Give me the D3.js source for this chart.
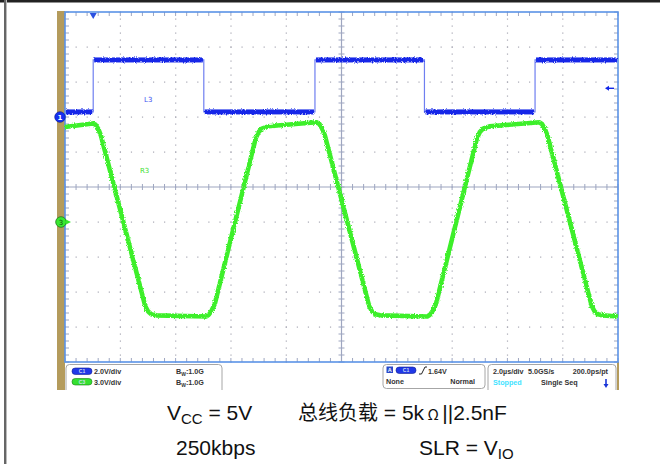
<!DOCTYPE html>
<html><head><meta charset="utf-8">
<script src="https://cdn.jsdelivr.net/npm/d3@7"></script>
<style>body{margin:0;background:#fff;overflow:hidden}</style>
</head><body><svg id="c" width="660" height="464"></svg>
<script>
// ---------- data ----------
// C1 (blue, 2 V/div): logic input, edge times (µs) and level of each segment (V)
const c1EdgeTimes = [0, 1.02, 5.02, 9.04, 13.0, 17.0, 20];
const c1Levels    = [0.29, 3.26, 0.29, 3.26, 0.29, 3.26];
// C3 (green, 3 V/div): slew-limited bus output (µs, V)
const c3Times = [0, 0.5, 1.0, 1.1, 1.2, 1.3, 2.9, 3.0, 3.12, 3.3,
                 5.1, 5.2, 5.3, 5.42, 6.9, 7.0, 7.12, 7.35,
                 9.1, 9.2, 9.3, 9.4, 11.0, 11.1, 11.22, 11.4,
                 13.1, 13.2, 13.3, 13.42, 14.9, 15.0, 15.12, 15.35,
                 17.15, 17.25, 17.35, 17.45, 19.05, 19.15, 19.27, 19.45, 20];
const c3Volts = [8.14, 8.3, 8.45, 8.35, 8.0, 7.4, -7.2, -7.65, -7.9, -8.0,
                 -8.1, -7.95, -7.6, -7.0, 7.2, 7.7, 8.0, 8.2,
                 8.55, 8.4, 8.0, 7.4, -7.2, -7.65, -7.9, -8.0,
                 -8.1, -7.95, -7.6, -7.0, 7.2, 7.7, 8.0, 8.2,
                 8.55, 8.4, 8.0, 7.4, -7.2, -7.65, -7.9, -8.0, -8.1];
const c1Offset = 2;    // ground marker position (div)
const c3Offset = -1;   // ground marker position (div)
const c1VoltsPerDiv = 2, c3VoltsPerDiv = 3;
const triggerTime = 1.02, triggerLevel = 1.64;
const statusLeft = [["C1", "2.0V/div", "1.0G"], ["C3", "3.0V/div", "1.0G"]];
const statusTrig = ["1.64V", "None", "Normal"];
const statusTime = ["2.0µs/div", "5.0GS/s", "200.0ps/pt", "Stopped", "Single Seq"];

// ---------- scales ----------
const svg = d3.select("#c");
const L = 65, R = 618, T = 12, B = 362;
const x = d3.scaleLinear().domain([0, 20]).range([L, R]);
const xd = d3.scaleLinear().domain([-5, 5]).range([L, R]);   // horizontal divisions
const yd = d3.scaleLinear().domain([-5, 5]).range([B, T]);   // vertical divisions
const y1 = v => yd(c1Offset + v / c1VoltsPerDiv);
const y3 = v => yd(c3Offset + v / c3VoltsPerDiv);

// noise filter for the traces
const defs = svg.append("defs");
const f = defs.append("filter").attr("id", "nz").attr("filterUnits", "userSpaceOnUse")
  .attr("x", 0).attr("y", 0).attr("width", 660).attr("height", 464);
f.append("feTurbulence").attr("type", "fractalNoise").attr("baseFrequency", "1.1 0.7").attr("numOctaves", 1).attr("seed", 4).attr("result", "t");
f.append("feDisplacementMap").attr("in", "SourceGraphic").attr("in2", "t").attr("scale", 3.5)
  .attr("xChannelSelector", "R").attr("yChannelSelector", "G");

// frame
svg.append("rect").attr("x", 0).attr("y", 0).attr("width", 660).attr("height", 2.5).attr("fill", "#222");
svg.append("rect").attr("x", 4).attr("y", 0).attr("width", 2).attr("height", 464).attr("fill", "#666");
svg.append("rect").attr("x", 6).attr("y", 0).attr("width", 1).attr("height", 464).attr("fill", "#bbb");

// khaki strip
svg.append("rect").attr("x", 57).attr("y", 11).attr("width", 8).attr("height", 379).attr("fill", "#b49b5c");
svg.append("rect").attr("x", 617).attr("y", 362).attr("width", 2).attr("height", 28).attr("fill", "#b49b5c");

// grid dots
const g = svg.append("g");
const minorX = d3.range(-5, 5.001, 0.2), minorY = d3.range(-5, 5.001, 0.2);
[-4, -3, -2, -1, 1, 2, 3, 4].forEach(d => {
  minorY.forEach(m => g.append("rect").attr("x", xd(d) - 0.5).attr("y", yd(m) - 0.5).attr("width", 1.2).attr("height", 1.2).attr("fill", "#a8a8b4"));
  minorX.forEach(m => g.append("rect").attr("x", xd(m) - 0.5).attr("y", yd(d) - 0.5).attr("width", 1.2).attr("height", 1.2).attr("fill", "#a8a8b4"));
});
// center cross
g.append("line").attr("x1", L).attr("x2", R).attr("y1", yd(0)).attr("y2", yd(0)).attr("stroke", "#9ea6c0").attr("stroke-width", 1.2);
g.append("line").attr("x1", xd(0)).attr("x2", xd(0)).attr("y1", T).attr("y2", B).attr("stroke", "#9ea6c0").attr("stroke-width", 1.2);
minorX.forEach(m => g.append("line").attr("x1", xd(m)).attr("x2", xd(m)).attr("y1", yd(0) - 3).attr("y2", yd(0) + 3).attr("stroke", "#9ea6c0"));
minorY.forEach(m => g.append("line").attr("y1", yd(m)).attr("y2", yd(m)).attr("x1", xd(0) - 3).attr("x2", xd(0) + 3).attr("stroke", "#9ea6c0"));
// edge ticks
minorX.forEach(m => {
  g.append("line").attr("x1", xd(m)).attr("x2", xd(m)).attr("y1", T).attr("y2", T + 4).attr("stroke", "#9ea6c0");
  g.append("line").attr("x1", xd(m)).attr("x2", xd(m)).attr("y1", B - 4).attr("y2", B).attr("stroke", "#9ea6c0");
});
minorY.forEach(m => {
  g.append("line").attr("y1", yd(m)).attr("y2", yd(m)).attr("x1", L).attr("x2", L + 4).attr("stroke", "#9ea6c0");
  g.append("line").attr("y1", yd(m)).attr("y2", yd(m)).attr("x1", R - 4).attr("x2", R).attr("stroke", "#9ea6c0");
});
// border
svg.append("rect").attr("x", L).attr("y", T).attr("width", R - L).attr("height", B - T)
  .attr("fill", "none").attr("stroke", "#5b93e6").attr("stroke-width", 1.6);

// ---------- traces ----------
const blue = "#1228e8", green = "#3def2a";
// C3 green
const line3 = d3.line().x(d => x(d[0])).y(d => y3(d[1]));
svg.append("path").datum(c3Times.map((t, i) => [t, c3Volts[i]])).attr("d", line3)
  .attr("fill", "none").attr("stroke", green).attr("stroke-width", 4.6).attr("stroke-linejoin", "round")
  .attr("filter", "url(#nz)");
// C1 blue: thin edges + thick noisy plateaus
const stepPts = [];
c1Levels.forEach((v, i) => { stepPts.push([c1EdgeTimes[i], v]); stepPts.push([c1EdgeTimes[i + 1], v]); });
svg.append("path").datum(stepPts).attr("d", d3.line().x(d => x(d[0])).y(d => y1(d[1])))
  .attr("fill", "none").attr("stroke", "#6f7ff0").attr("stroke-width", 1.2);
const bg = svg.append("g").attr("filter", "url(#nz)");
c1Levels.forEach((v, i) => {
  bg.append("rect").attr("x", x(c1EdgeTimes[i]) + 1).attr("y", y1(v) - 2.5)
    .attr("width", x(c1EdgeTimes[i + 1]) - x(c1EdgeTimes[i]) - 2).attr("height", 5).attr("fill", blue);
});

// trace labels
svg.append("text").attr("x", 144).attr("y", 102).text("L3").attr("fill", "#3a4ff0").attr("font-size", 7).attr("font-family", "DejaVu Sans");
svg.append("text").attr("x", 140).attr("y", 173).text("R3").attr("fill", "#40e030").attr("font-size", 7).attr("font-family", "DejaVu Sans");

// markers
const tx = x(triggerTime);
svg.append("path").attr("d", `M${tx - 3.5},${T + 1}L${tx + 3.5},${T + 1}L${tx},${T + 7}Z`).attr("fill", "#2a50e0");
const ty = y1(triggerLevel);
svg.append("line").attr("x1", R - 4).attr("x2", R - 11).attr("y1", ty).attr("y2", ty).attr("stroke", blue).attr("stroke-width", 1.4);
svg.append("path").attr("d", `M${R - 13},${ty}L${R - 9},${ty - 2.5}L${R - 9},${ty + 2.5}Z`).attr("fill", blue);
svg.append("circle").attr("cx", 60).attr("cy", yd(c1Offset)).attr("r", 5.3).attr("fill", "#1530f0").attr("stroke", "#0a1a90").attr("stroke-width", 0.6);
svg.append("text").attr("x", 60).attr("y", yd(c1Offset) + 2.5).attr("text-anchor", "middle").text("1")
  .attr("fill", "#fff").attr("font-size", 7).attr("font-family", "DejaVu Sans").attr("font-weight", "bold");
svg.append("circle").attr("cx", 61).attr("cy", yd(c3Offset)).attr("r", 5.3).attr("fill", "#38e830").attr("stroke", "#207a20").attr("stroke-width", 0.8);
svg.append("text").attr("x", 61).attr("y", yd(c3Offset) + 2.5).attr("text-anchor", "middle").text("3")
  .attr("fill", "#105010").attr("font-size", 7).attr("font-family", "DejaVu Sans");
svg.append("path").attr("d", `M66,${yd(c3Offset) - 2.5}L71,${yd(c3Offset)}L66,${yd(c3Offset) + 2.5}Z`).attr("fill", "#38e830");
svg.append("line").attr("x1", 65).attr("x2", 68).attr("y1", yd(c3Offset)).attr("y2", yd(c3Offset)).attr("stroke", "#38e830").attr("stroke-width", 1.2);

// ---------- status bar ----------
const sf = "Liberation Sans, Arial, sans-serif";
const st = svg.append("g").attr("font-family", sf).attr("font-size", 7.2).attr("font-weight", "bold").attr("fill", "#333");
const box = (x0, y0, w, h) => st.append("rect").attr("x", x0).attr("y", y0).attr("width", w).attr("height", h).attr("rx", 3.5)
  .attr("fill", "#fff").attr("stroke", "#a6a6a6").attr("stroke-width", 1);
box(66, 364.5, 156, 30);
box(383, 364.5, 102, 24);
box(488, 364.5, 128, 30);
const pill = (px, py, col, dark, txt) => {
  st.append("rect").attr("x", px).attr("y", py).attr("width", 20).attr("height", 6.5).attr("rx", 3.2).attr("fill", col).attr("stroke", dark).attr("stroke-width", 0.6);
  st.append("text").attr("x", px + 10).attr("y", py + 5.2).attr("text-anchor", "middle").attr("font-size", 5).attr("fill", "#cde").text(txt);
};
statusLeft.forEach((r, i) => {
  const yy = 374 + i * 10.5;
  pill(72, yy - 6, i === 0 ? "#2038e8" : "#35e030", i === 0 ? "#102090" : "#158015", r[0]);
  st.append("text").attr("x", 94).attr("y", yy).text(r[1]);
  const b = st.append("text").attr("x", 176).attr("y", yy);
  b.append("tspan").text("B");
  b.append("tspan").attr("font-size", 5).attr("dy", 2).text("W");
  b.append("tspan").attr("dy", -2).text(":" + r[2]);
});
st.append("rect").attr("x", 386.5).attr("y", 366.5).attr("width", 6.5).attr("height", 6.5).attr("fill", "#2848c8");
st.append("text").attr("x", 389.7).attr("y", 372).attr("text-anchor", "middle").attr("font-size", 5.5).attr("fill", "#fff").text("A");
pill(396, 367, "#2038e8", "#102090", "C1");
st.append("path").attr("d", "M419,374L421.5,374L425,367L427,367").attr("fill", "none").attr("stroke", "#222").attr("stroke-width", 1);
st.append("text").attr("x", 428).attr("y", 374).text(statusTrig[0]);
st.append("text").attr("x", 386).attr("y", 383.5).text(statusTrig[1]);
st.append("text").attr("x", 475).attr("y", 383.5).attr("text-anchor", "end").text(statusTrig[2]);
st.append("text").attr("x", 493).attr("y", 374).text(statusTime[0]);
st.append("text").attr("x", 528).attr("y", 374).text(statusTime[1]);
st.append("text").attr("x", 608).attr("y", 374).attr("text-anchor", "end").text(statusTime[2]);
st.append("text").attr("x", 493).attr("y", 385).attr("fill", "#3fe3ff").text(statusTime[3]);
st.append("text").attr("x", 541).attr("y", 385).text(statusTime[4]);
st.append("line").attr("x1", 606).attr("x2", 606).attr("y1", 379).attr("y2", 385).attr("stroke", "#1a35d8").attr("stroke-width", 1.6);
st.append("path").attr("d", "M603.5,384L608.5,384L606,388Z").attr("fill", "#1a35d8");
// mask below screen
svg.append("rect").attr("x", 57).attr("y", 390).attr("width", 570).attr("height", 8).attr("fill", "#fff");

// ---------- caption ----------
const cf = "'Liberation Sans', Arial, 'Noto Sans CJK SC', sans-serif";
const cap = svg.append("g").attr("font-family", cf).attr("font-size", 21).attr("fill", "#111");
let t1 = cap.append("text").attr("x", 167).attr("y", 420);
t1.append("tspan").text("V");
t1.append("tspan").attr("font-size", 15).attr("dy", 4).text("CC");
t1.append("tspan").attr("dy", -4).text(" = 5V");
let t2 = cap.append("text").attr("x", 298).attr("y", 420);
t2.append("tspan").attr("font-family", "'Noto Sans CJK SC'").attr("font-size", 20).text("总线负载");
t2.append("tspan").text(" = 5k");
t2.append("tspan").attr("font-family", "'Noto Sans CJK SC'").attr("font-size", 15).text(" Ω ");
t2.append("tspan").text("||2.5nF");
cap.append("text").attr("x", 176).attr("y", 455).text("250kbps");
let t4 = cap.append("text").attr("x", 419).attr("y", 455);
t4.append("tspan").text("SLR = V");
t4.append("tspan").attr("font-size", 15).attr("dy", 4).text("IO");
</script></body></html>
